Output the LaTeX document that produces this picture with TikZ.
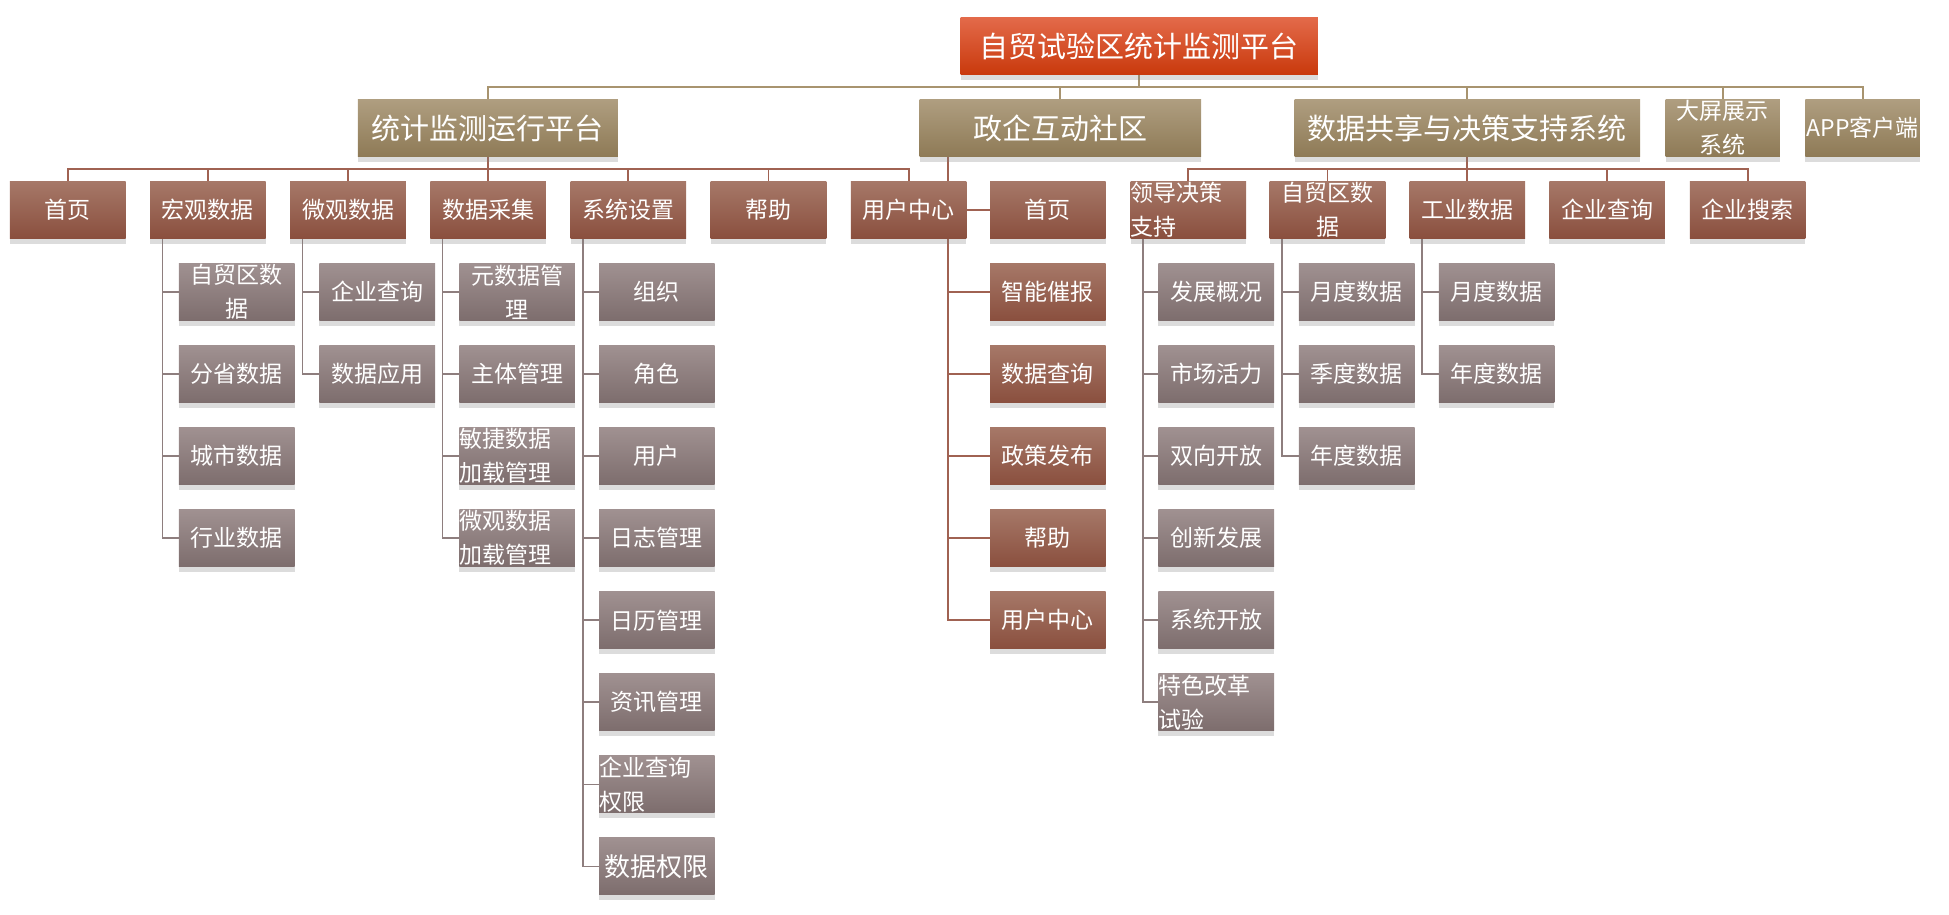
\documentclass[tikz,border=0pt]{standalone}
\usepackage{fontspec}
\newfontfamily\cjk{Noto Sans CJK SC}
\usetikzlibrary{shadows}
\pgfdeclarelayer{background}
\pgfsetlayers{background,main}
\definecolor{rootT}{HTML}{E36A4A}
\definecolor{rootB}{HTML}{C9390C}
\definecolor{tanT}{HTML}{AF9E80}
\definecolor{tanB}{HTML}{8E7A56}
\definecolor{brT}{HTML}{A67868}
\definecolor{brB}{HTML}{8A4F3E}
\definecolor{gyT}{HTML}{A09191}
\definecolor{gyB}{HTML}{7D6D6D}
\definecolor{lnTan}{HTML}{A8946F}
\definecolor{lnBr}{HTML}{A06252}
\definecolor{lnGy}{HTML}{8E7E7E}
\begin{document}
\begin{tikzpicture}[x=1.243pt, y=-1.243pt,
  box/.style={rectangle, inner sep=0pt, text=white, align=center,
    font=\cjk\fontsize{23}{34}\selectfont,
    minimum width=115.6pt, minimum height=57.2pt,
    drop shadow={shadow xshift=0pt, shadow yshift=-5pt, opacity=0.28}},
  rootbox/.style={box, top color=rootT, bottom color=rootB, minimum width=357.4pt,
    font=\cjk\fontsize{29}{34}\selectfont},
  l2box/.style={box, top color=tanT, bottom color=tanB},
  l2big/.style={l2box, font=\cjk\fontsize{29}{34}\selectfont},
  l3box/.style={box, top color=brT, bottom color=brB},
  l4box/.style={box, top color=gyT, bottom color=gyB},
  lefttxt/.style={text width=115.6pt, align=left},
  topline/.style={draw=lnTan, line width=2pt},
  midline/.style={draw=lnBr, line width=1.8pt},
  lowline/.style={draw=lnGy, line width=1.6pt}
]
\useasboundingbox (0,0) rectangle (1568,736);

% root
\node[rootbox] (root) at (916.5,37) {自贸试验区统计监测平台};

% level 2
\node[l2big, minimum width=260pt] (tj) at (392.5,103) {统计监测运行平台};
\node[l2big, minimum width=281.5pt] (zq) at (853,103) {政企互动社区};
\node[l2big, minimum width=345.5pt] (sj) at (1180.5,103) {数据共享与决策支持系统};
\node[l2box, minimum width=114.4pt] (dp) at (1386,103) {大屏展示\\系统};
\node[l2box, minimum width=114.4pt] (app) at (1498.5,103) {APP客户端};

% level 3 under 统计监测运行平台
\node[l3box] (a1) at (54.5,169) {首页};
\node[l3box] (a2) at (167.25,169) {宏观数据};
\node[l3box] (a3) at (280,169) {微观数据};
\node[l3box] (a4) at (392.75,169) {数据采集};
\node[l3box] (a5) at (505.5,169) {系统设置};
\node[l3box] (a6) at (618.25,169) {帮助};
\node[l3box] (a7) at (731,169) {用户中心};

% children of 政企互动社区
\node[l3box] (z1) at (843,169) {首页};
\node[l3box] (z2) at (843,235) {智能催报};
\node[l3box] (z3) at (843,301) {数据查询};
\node[l3box] (z4) at (843,367) {政策发布};
\node[l3box] (z5) at (843,433) {帮助};
\node[l3box] (z6) at (843,499) {用户中心};

% level 3 under 数据共享与决策支持系统
\node[l3box, lefttxt] (d1) at (956,169) {领导决策\\支持};
\node[l3box] (d2) at (1068,169) {自贸区数\\据};
\node[l3box] (d3) at (1180.5,169) {工业数据};
\node[l3box] (d4) at (1293,169) {企业查询};
\node[l3box] (d5) at (1406,169) {企业搜索};

% level 4: 宏观数据
\node[l4box] (b1) at (190.5,235) {自贸区数\\据};
\node[l4box] (b2) at (190.5,301) {分省数据};
\node[l4box] (b3) at (190.5,367) {城市数据};
\node[l4box] (b4) at (190.5,433) {行业数据};
% 微观数据
\node[l4box] (m1) at (303.5,235) {企业查询};
\node[l4box] (m2) at (303.5,301) {数据应用};
% 数据采集
\node[l4box] (c1) at (416,235) {元数据管\\理};
\node[l4box] (c2) at (416,301) {主体管理};
\node[l4box, lefttxt] (c3) at (416,367) {敏捷数据\\加载管理};
\node[l4box, lefttxt] (c4) at (416,433) {微观数据\\加载管理};
% 系统设置
\node[l4box] (s1) at (528.5,235) {组织};
\node[l4box] (s2) at (528.5,301) {角色};
\node[l4box] (s3) at (528.5,367) {用户};
\node[l4box] (s4) at (528.5,433) {日志管理};
\node[l4box] (s5) at (528.5,499) {日历管理};
\node[l4box] (s6) at (528.5,565) {资讯管理};
\node[l4box, lefttxt] (s7) at (528.5,631) {企业查询\\权限};
\node[l4box, font=\cjk\fontsize{26}{34}\selectfont] (s8) at (528.5,697) {数据权限};
% 领导决策支持
\node[l4box] (e1) at (978.5,235) {发展概况};
\node[l4box] (e2) at (978.5,301) {市场活力};
\node[l4box] (e3) at (978.5,367) {双向开放};
\node[l4box] (e4) at (978.5,433) {创新发展};
\node[l4box] (e5) at (978.5,499) {系统开放};
\node[l4box, lefttxt] (e6) at (978.5,565) {特色改革\\试验};
% 自贸区数据
\node[l4box] (f1) at (1091.5,235) {月度数据};
\node[l4box] (f2) at (1091.5,301) {季度数据};
\node[l4box] (f3) at (1091.5,367) {年度数据};
% 工业数据
\node[l4box] (g1) at (1204,235) {月度数据};
\node[l4box] (g2) at (1204,301) {年度数据};

\begin{pgfonlayer}{background}
  \foreach \n in {tj,zq,sj,dp,app}
    \draw[topline] (root.south) -- ++(0,10) -| (\n.north);
  \foreach \n in {a1,a2,a3,a4,a5,a6,a7}
    \draw[midline] (tj.south) -- ++(0,9.5) -| (\n.north);
  \foreach \n in {d1,d2,d3,d4,d5}
    \draw[midline] (sj.south) -- ++(0,9.5) -| (\n.north);
  \foreach \n in {z1,z2,z3,z4,z5,z6}
    \draw[midline] ([xshift=-111.9pt]zq.south) |- (\n.west);
  \foreach \n in {b1,b2,b3,b4}
    \draw[lowline] ([xshift=12.43pt]a2.south west) |- (\n.west);
  \foreach \n in {m1,m2}
    \draw[lowline] ([xshift=12.43pt]a3.south west) |- (\n.west);
  \foreach \n in {c1,c2,c3,c4}
    \draw[lowline] ([xshift=12.43pt]a4.south west) |- (\n.west);
  \foreach \n in {s1,s2,s3,s4,s5,s6,s7,s8}
    \draw[lowline] ([xshift=12.43pt]a5.south west) |- (\n.west);
  \foreach \n in {e1,e2,e3,e4,e5,e6}
    \draw[lowline] ([xshift=12.43pt]d1.south west) |- (\n.west);
  \foreach \n in {f1,f2,f3}
    \draw[lowline] ([xshift=12.43pt]d2.south west) |- (\n.west);
  \foreach \n in {g1,g2}
    \draw[lowline] ([xshift=12.43pt]d3.south west) |- (\n.west);
\end{pgfonlayer}
\end{tikzpicture}
\end{document}
